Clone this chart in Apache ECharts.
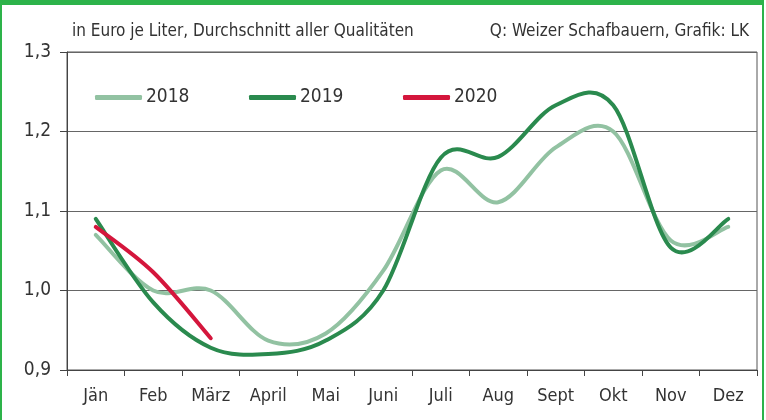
<!DOCTYPE html>
<html>
<head>
<meta charset="utf-8">
<script src="https://cdn.jsdelivr.net/npm/echarts@6/dist/echarts.min.js"></script>
<style>
    html, body { margin: 0; padding: 0; background: #fff; }
    #frame { width: 760px; height: 415px; border-left: 2px solid #2db34a; border-right: 2px solid #2db34a; border-top: 5px solid #2db34a; }
    #main { width: 760px; height: 415px; }
</style>
</head>
<body>
<div id="frame"><div id="main"></div></div>
<script>
    var months = ['Jän', 'Feb', 'März', 'April', 'Mai', 'Juni', 'Juli', 'Aug', 'Sept', 'Okt', 'Nov', 'Dez'];
    var y2018 = [1.07, 1.00, 1.00, 0.937, 0.946, 1.025, 1.151, 1.111, 1.18, 1.20, 1.063, 1.08];
    var y2019 = [1.09, 0.985, 0.928, 0.92, 0.937, 1.00, 1.167, 1.168, 1.233, 1.233, 1.054, 1.09];
    var y2020 = [1.08, 1.023, 0.94];
    var yTicks = [0.9, 1.0, 1.1, 1.2, 1.3];

    var font = '"Liberation Sans Narrow", "DejaVu Sans Condensed", sans-serif';
    var myChart = echarts.init(document.getElementById('main'));

    // weiche Kurve (wie Excel "geglättete Linie") durch alle Punkte
    function curveSeries(name, values, color) {
        var data = [];
        for (var i = 0; i < values.length; i++) data.push([i, values[i]]);
        return {
            name: name,
            type: 'custom',
            itemStyle: { color: color },
            encode: { x: 0, y: 1 },
            data: data,
            renderItem: function (params, api) {
                if (params.dataIndex !== 0) return;
                var pts = [];
                for (var k = 0; k < values.length; k++) pts.push(api.coord([k, values[k]]));
                var d = 'M' + pts[0][0] + ',' + pts[0][1];
                for (var j = 0; j < pts.length - 1; j++) {
                    var p0 = pts[j - 1] || pts[j], p1 = pts[j], p2 = pts[j + 1], p3 = pts[j + 2] || p2;
                    var c1x = p1[0] + (p2[0] - p0[0]) / 6, c1y = p1[1] + (p2[1] - p0[1]) / 6;
                    var c2x = p2[0] - (p3[0] - p1[0]) / 6, c2y = p2[1] - (p3[1] - p1[1]) / 6;
                    d += ' C' + c1x + ',' + c1y + ' ' + c2x + ',' + c2y + ' ' + p2[0] + ',' + p2[1];
                }
                return {
                    type: 'path',
                    shape: { pathData: d },
                    style: { fill: null, stroke: color, lineWidth: 4, lineCap: 'round', lineJoin: 'round' }
                };
            }
        };
    }

    var legendBase = { itemWidth: 47, itemHeight: 5, icon: 'roundRect', itemGap: 4, textStyle: { fontSize: 19, color: '#333', padding: [0, 0, 0, -1] } };

    var option = {
        animation: false,
        textStyle: { fontFamily: font },
        title: [{
            text: 'in Euro je Liter, Durchschnitt aller Qualitäten',
            left: 65, top: 13,
            textStyle: { fontSize: 17, fontWeight: 'normal', color: '#333', fontFamily: font }
        }, {
            text: 'Q: Weizer Schafbauern, Grafik: LK',
            right: 8, top: 13,
            textStyle: { fontSize: 17, fontWeight: 'normal', color: '#333', fontFamily: font }
        }],
        legend: [
            echarts.util.merge({ data: ['2018'], left: 88, top: 78 }, legendBase),
            echarts.util.merge({ data: ['2019'], left: 242, top: 78 }, legendBase),
            echarts.util.merge({ data: ['2020'], left: 396, top: 78 }, legendBase)
        ],
        grid: {
            left: 65, right: 5, top: 47, bottom: 50,
            show: true, borderColor: '#555', borderWidth: 1
        },
        xAxis: {
            type: 'category',
            data: months,
            boundaryGap: true,
            axisLine: { lineStyle: { color: '#444', width: 1 } },
            axisTick: { show: true, length: 6, lineStyle: { color: '#444' } },
            axisLabel: { fontSize: 18, color: '#333', margin: 17 }
        },
        yAxis: {
            type: 'value',
            min: yTicks[0],
            max: yTicks[yTicks.length - 1],
            interval: 0.1,
            axisLine: { show: true, lineStyle: { color: '#444' } },
            axisTick: { show: true, length: 7, lineStyle: { color: '#444' } },
            splitLine: { lineStyle: { color: '#666', width: 1 } },
            axisLabel: {
                fontSize: 19, color: '#333', margin: 16,
                formatter: function (v) { return v.toFixed(1).replace('.', ','); }
            }
        },
        series: [
            curveSeries('2018', y2018, '#92c2a2'),
            curveSeries('2019', y2019, '#2a8a4e'),
            curveSeries('2020', y2020, '#d4163c')
        ]
    };
    myChart.setOption(option);
</script>
</body>
</html>
